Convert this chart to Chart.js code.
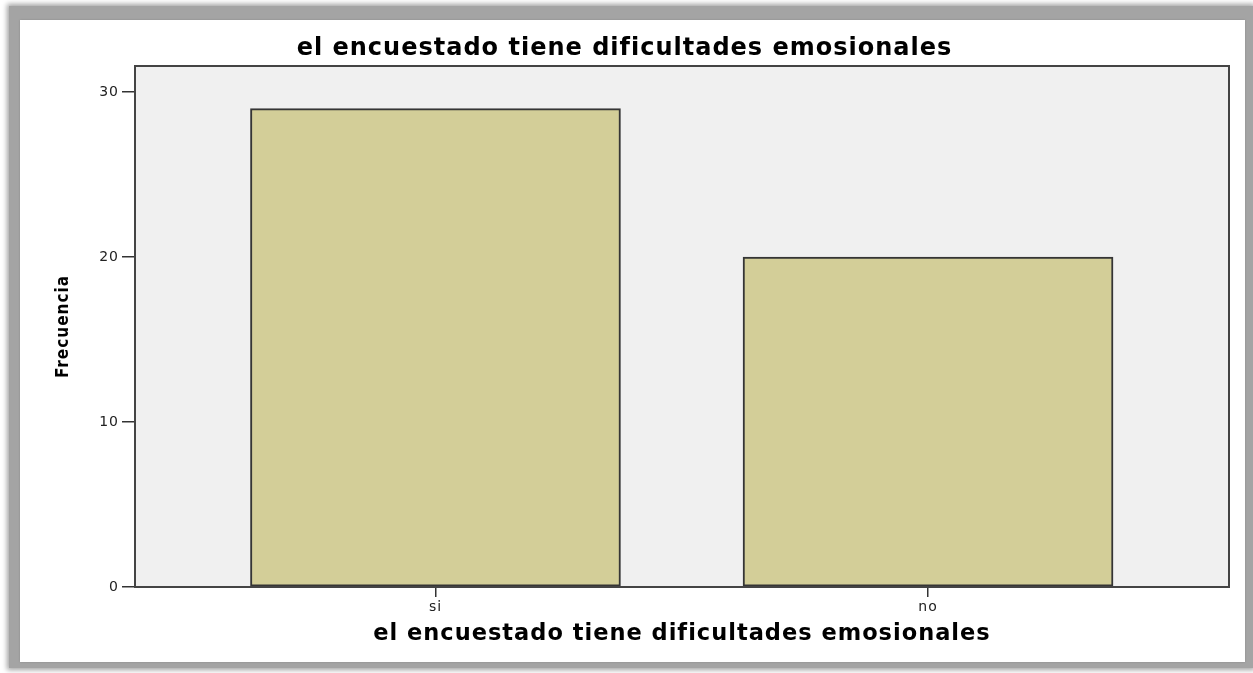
<!DOCTYPE html>
<html>
<head>
<meta charset="utf-8">
<script src="https://cdn.jsdelivr.net/npm/chart.js@4"></script>
<style>
  body { margin: 0; background: #fff; width: 1253px; height: 673px; overflow: hidden; }
  #frame { position: absolute; left: 9px; top: 6px; width: 1244px; height: 662px; background: #a4a4a4; box-shadow: 0 0 5px 2px #a4a4a4; }
  #wrap { position: absolute; left: 20px; top: 20px; width: 1225px; height: 642px; background: #fff; box-shadow: 0 0 2px #8a8a8a; }
</style>
</head>
<body>
<div id="frame"></div>
<div id="wrap"><canvas id="c" width="1225" height="642"></canvas></div>
<script>
const categorias = ['si', 'no']
const frecuencias = [29, 20]
const yTicks = [0, 10, 20, 30]
const titulo = 'el encuestado tiene dificultades emosionales'

// fondo gris y marco del área de trazado
const marcoPlugin = {
  id: 'marco',
  beforeDraw(chart) {
    const { ctx, chartArea: a } = chart
    ctx.letterSpacing = '1px'
    ctx.save()
    ctx.fillStyle = '#f0f0f0'
    ctx.fillRect(a.left, a.top, a.right - a.left, a.bottom - a.top)
    ctx.restore()
  },
  afterDatasetsDraw(chart) {
    const { ctx, chartArea: a } = chart
    ctx.save()
    ctx.strokeStyle = '#444'
    ctx.lineWidth = 2
    ctx.strokeRect(a.left, a.top, a.right - a.left, a.bottom - a.top)
    ctx.restore()
  }
}

new Chart(document.getElementById('c'), {
  type: 'bar',
  data: {
    datasets: [{
      data: frecuencias.map((v, i) => ({ x: i, y: v })),
      backgroundColor: '#d3ce98',
      borderColor: '#353535',
      borderWidth: 2,
      borderSkipped: false,
      barThickness: 370
    }]
  },
  options: {
    responsive: false,
    animation: false,
    layout: { padding: { left: 0, right: 16, top: 0, bottom: 0 } },
    scales: {
      x: {
        type: 'linear',
        offset: false,
        min: -0.61,
        max: 1.611,
        afterBuildTicks: s => { s.ticks = categorias.map((c, i) => ({ value: i })) },
        afterFit: s => { s.height = 75 },
        ticks: {
          callback: v => categorias[v],
          color: '#222',
          padding: 2,
          font: { family: 'DejaVu Sans', size: 14 }
        },
        grid: { offset: false, drawOnChartArea: false, color: '#333', lineWidth: 1.5, tickLength: 10 },
        border: { display: false },
        title: {
          display: true,
          text: titulo,
          color: '#000',
          padding: { top: 0, bottom: 14.5 },
          font: { family: 'DejaVu Sans', size: 22.5, weight: 'bold' }
        }
      },
      y: {
        min: 0,
        max: 31.58,
        afterBuildTicks: s => { s.ticks = yTicks.map(v => ({ value: v })) },
        afterFit: s => { s.width = 115 },
        ticks: {
          color: '#222',
          padding: 3,
          font: { family: 'DejaVu Sans', size: 14 }
        },
        grid: { drawOnChartArea: false, color: '#333', lineWidth: 1.5, tickLength: 13 },
        border: { display: false },
        title: {
          display: true,
          text: 'Frecuencia',
          color: '#000',
          padding: { top: 33.8, bottom: 0 },
          font: { family: "'DejaVu Sans Condensed', sans-serif", size: 17, weight: 'bold' }
        }
      }
    },
    plugins: {
      legend: { display: false },
      tooltip: { enabled: false },
      title: {
        display: true,
        text: titulo,
        color: '#000',
        padding: { top: 14, bottom: 3.2 },
        font: { family: 'DejaVu Sans', size: 24, weight: 'bold' }
      }
    }
  },
  plugins: [marcoPlugin]
})
</script>
</body>
</html>
